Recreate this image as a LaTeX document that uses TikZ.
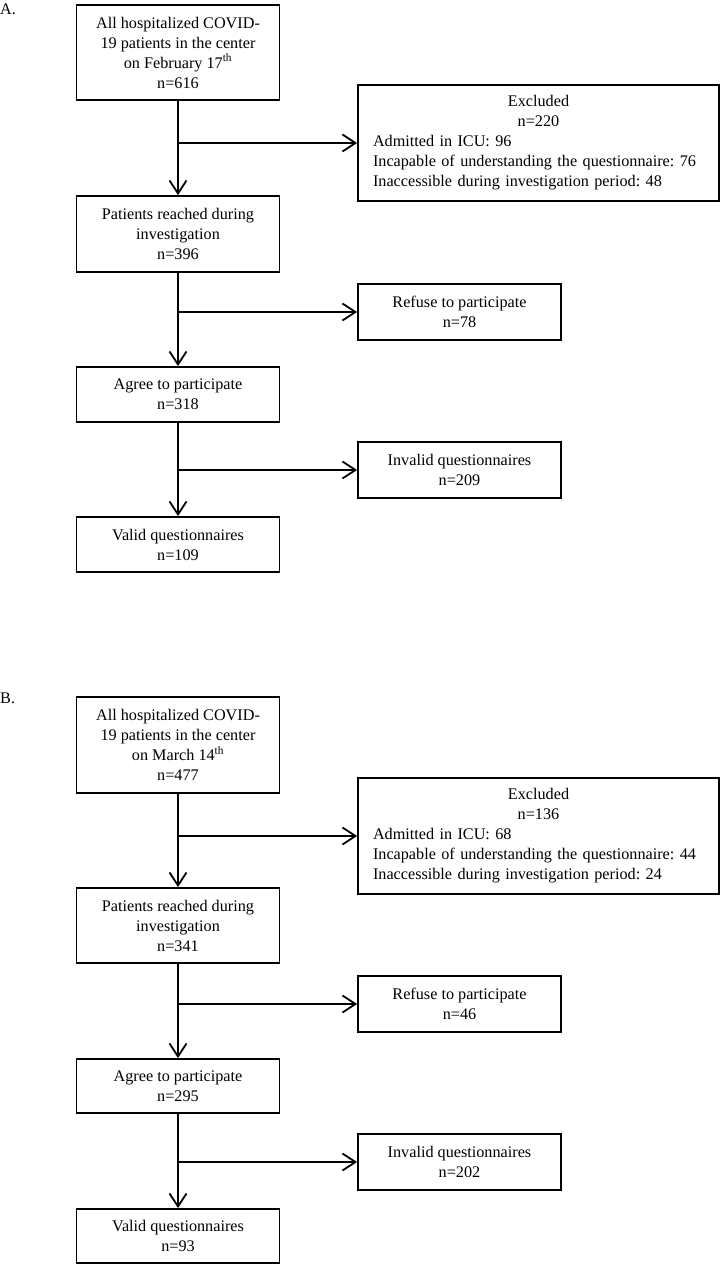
\documentclass[tikz,border=0pt]{standalone}
\usepackage{fontspec}
\setmainfont{Liberation Serif}
\usetikzlibrary{arrows.meta}
\frenchspacing
\begin{document}
\begin{tikzpicture}[x=1pt,y=-1pt,
  every node/.style={font=\fontsize{16.2}{20}\selectfont},
  box/.style={draw=black,line width=1.8pt,rectangle,align=center,inner sep=0pt,minimum width=203pt},
  widebox/.style={draw=black,line width=1.8pt,rectangle,align=left,inner sep=0pt,minimum width=361pt,text width=331pt},
  arr/.style={line width=1.8pt,-{Straight Barb[length=13pt,width=17pt,line width=1.8pt]}},
  panel/.style={anchor=west,inner sep=0pt}]
\useasboundingbox (0,0) rectangle (720,1265);
% Panel A
\node[panel] (la) at (0,9) {A.};
\node[box,minimum height=95pt] (a1) at (178,52.5) {All hospitalized COVID-\\19 patients in the center\\on February 17\textsuperscript{th}\\n=616};
\node[widebox,minimum height=116pt] (ae) at (538.5,143) {{\centering Excluded\\n=220\par}Admitted in ICU: 96\\Incapable of understanding the questionnaire: 76\\Inaccessible during investigation period: 48};
\node[box,minimum height=76pt] (a2) at (178,234) {Patients reached during\\investigation\\n=396};
\node[box,minimum height=56pt] (ar) at (459.5,312) {Refuse to participate\\n=78};
\node[box,minimum height=55pt] (a3) at (178,394.5) {Agree to participate\\n=318};
\node[box,minimum height=56pt] (ai) at (459.5,470) {Invalid questionnaires\\n=209};
\node[box,minimum height=55pt] (a4) at (178,544.5) {Valid questionnaires\\n=109};
\coordinate (ja1) at (a1.south |- ae.west);
\coordinate (ja2) at (a2.south |- ar.west);
\coordinate (ja3) at (a3.south |- ai.west);
\draw[arr] (a1) -- (a2);
\draw[arr] (ja1) -- (ae.west);
\draw[arr] (a2) -- (a3);
\draw[arr] (ja2) -- (ar.west);
\draw[arr] (a3) -- (a4);
\draw[arr] (ja3) -- (ai.west);
% Panel B
\node[panel] (lb) at (0,698) {B.};
\node[box,minimum height=96pt] (b1) at (178,745) {All hospitalized COVID-\\19 patients in the center\\on March 14\textsuperscript{th}\\n=477};
\node[widebox,minimum height=116pt] (be) at (538.5,836) {{\centering Excluded\\n=136\par}Admitted in ICU: 68\\Incapable of understanding the questionnaire: 44\\Inaccessible during investigation period: 24};
\node[box,minimum height=75pt] (b2) at (178,925.5) {Patients reached during\\investigation\\n=341};
\node[box,minimum height=56pt] (br) at (459.5,1004) {Refuse to participate\\n=46};
\node[box,minimum height=54pt] (b3) at (178,1086) {Agree to participate\\n=295};
\node[box,minimum height=56pt] (bi) at (459.5,1162) {Invalid questionnaires\\n=202};
\node[box,minimum height=54pt] (b4) at (178,1236) {Valid questionnaires\\n=93};
\coordinate (jb1) at (b1.south |- be.west);
\coordinate (jb2) at (b2.south |- br.west);
\coordinate (jb3) at (b3.south |- bi.west);
\draw[arr] (b1) -- (b2);
\draw[arr] (jb1) -- (be.west);
\draw[arr] (b2) -- (b3);
\draw[arr] (jb2) -- (br.west);
\draw[arr] (b3) -- (b4);
\draw[arr] (jb3) -- (bi.west);
\end{tikzpicture}
\end{document}
